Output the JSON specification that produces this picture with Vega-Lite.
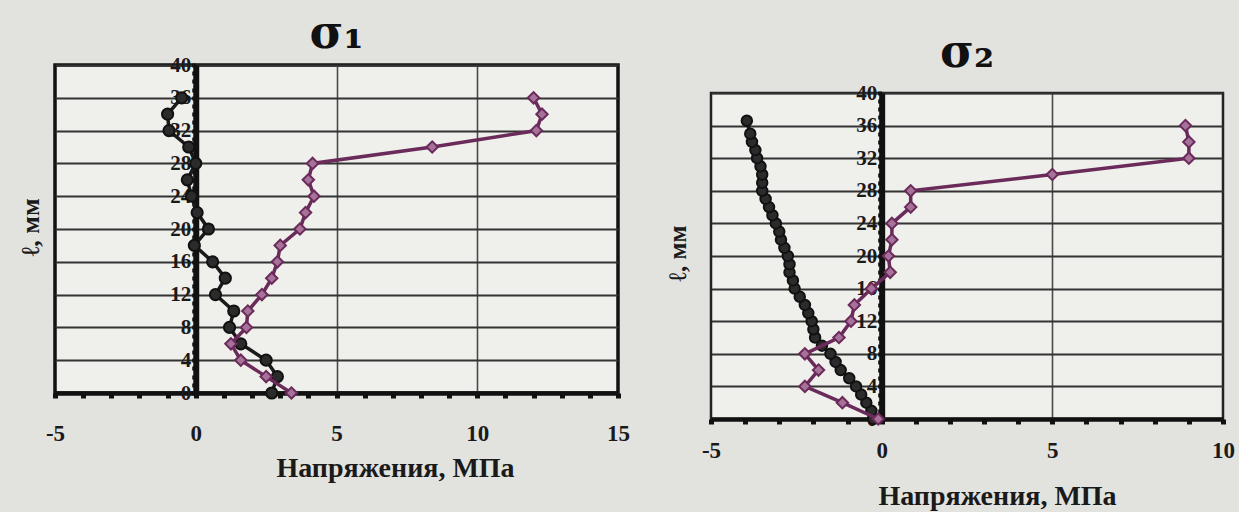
{
  "$schema": "https://vega.github.io/schema/vega-lite/v6.json",
  "background": "#e2e2df",
  "padding": {"left": 16, "top": 9, "right": 4, "bottom": 0},
  "spacing": 32,
  "config": {
    "font": "Liberation Serif",
    "view": {"fill": "#efefec"},
    "title": {"font": "DejaVu Serif", "fontWeight": "bold", "color": "#111", "fontSize": 46, "anchor": "middle"},
    "axis": {
      "labelFont": "Liberation Serif", "labelFontWeight": "bold", "labelColor": "#1a1a1a",
      "titleFont": "Liberation Serif", "titleFontWeight": "bold", "titleColor": "#1a1a1a",
      "domainColor": "#111", "tickColor": "#111", "labelOverlap": false, "labelFlush": false
    }
  },
  "datasets": {
    "d1": [
      {"s": "a", "l": 0, "v": 2.7}, {"s": "a", "l": 2, "v": 2.9}, {"s": "a", "l": 4, "v": 2.5},
      {"s": "a", "l": 6, "v": 1.6}, {"s": "a", "l": 8, "v": 1.2}, {"s": "a", "l": 10, "v": 1.35},
      {"s": "a", "l": 12, "v": 0.7}, {"s": "a", "l": 14, "v": 1.05}, {"s": "a", "l": 16, "v": 0.6},
      {"s": "a", "l": 18, "v": -0.05}, {"s": "a", "l": 20, "v": 0.45}, {"s": "a", "l": 22, "v": 0.05},
      {"s": "a", "l": 24, "v": -0.15}, {"s": "a", "l": 26, "v": -0.3}, {"s": "a", "l": 28, "v": 0.0},
      {"s": "a", "l": 30, "v": -0.25}, {"s": "a", "l": 32, "v": -0.95}, {"s": "a", "l": 34, "v": -1.0},
      {"s": "a", "l": 36, "v": -0.5},
      {"s": "b", "l": 0, "v": 3.4}, {"s": "b", "l": 2, "v": 2.5}, {"s": "b", "l": 4, "v": 1.6},
      {"s": "b", "l": 6, "v": 1.25}, {"s": "b", "l": 8, "v": 1.8}, {"s": "b", "l": 10, "v": 1.85},
      {"s": "b", "l": 12, "v": 2.35}, {"s": "b", "l": 14, "v": 2.7}, {"s": "b", "l": 16, "v": 2.9},
      {"s": "b", "l": 18, "v": 3.0}, {"s": "b", "l": 20, "v": 3.7}, {"s": "b", "l": 22, "v": 3.9},
      {"s": "b", "l": 24, "v": 4.2}, {"s": "b", "l": 26, "v": 4.0}, {"s": "b", "l": 28, "v": 4.15},
      {"s": "b", "l": 30, "v": 8.4}, {"s": "b", "l": 32, "v": 12.1}, {"s": "b", "l": 34, "v": 12.3},
      {"s": "b", "l": 36, "v": 12.0}
    ],
    "d2": [
      {"s": "a", "l": 0, "v": -0.25}, {"s": "a", "l": 1, "v": -0.3}, {"s": "a", "l": 2, "v": -0.45},
      {"s": "a", "l": 3, "v": -0.6}, {"s": "a", "l": 4, "v": -0.75}, {"s": "a", "l": 5, "v": -0.95},
      {"s": "a", "l": 6, "v": -1.2}, {"s": "a", "l": 7, "v": -1.35}, {"s": "a", "l": 8, "v": -1.5},
      {"s": "a", "l": 9, "v": -1.75}, {"s": "a", "l": 10, "v": -1.95}, {"s": "a", "l": 11, "v": -2.0},
      {"s": "a", "l": 12, "v": -2.05}, {"s": "a", "l": 13, "v": -2.15}, {"s": "a", "l": 14, "v": -2.25},
      {"s": "a", "l": 15, "v": -2.4}, {"s": "a", "l": 16, "v": -2.55}, {"s": "a", "l": 17, "v": -2.6},
      {"s": "a", "l": 18, "v": -2.7}, {"s": "a", "l": 19, "v": -2.7}, {"s": "a", "l": 20, "v": -2.75},
      {"s": "a", "l": 21, "v": -2.85}, {"s": "a", "l": 22, "v": -2.95}, {"s": "a", "l": 23, "v": -3.0},
      {"s": "a", "l": 24, "v": -3.1}, {"s": "a", "l": 25, "v": -3.2}, {"s": "a", "l": 26, "v": -3.3},
      {"s": "a", "l": 27, "v": -3.4}, {"s": "a", "l": 28, "v": -3.5}, {"s": "a", "l": 29, "v": -3.5},
      {"s": "a", "l": 30, "v": -3.5}, {"s": "a", "l": 31, "v": -3.55}, {"s": "a", "l": 32, "v": -3.65},
      {"s": "a", "l": 33, "v": -3.7}, {"s": "a", "l": 34, "v": -3.8}, {"s": "a", "l": 35, "v": -3.85},
      {"s": "a", "l": 36.6, "v": -3.95},
      {"s": "b", "l": 0, "v": -0.1}, {"s": "b", "l": 2, "v": -1.15}, {"s": "b", "l": 4, "v": -2.25},
      {"s": "b", "l": 6, "v": -1.85}, {"s": "b", "l": 8, "v": -2.25}, {"s": "b", "l": 10, "v": -1.25},
      {"s": "b", "l": 12, "v": -0.9}, {"s": "b", "l": 14, "v": -0.8}, {"s": "b", "l": 16, "v": -0.3},
      {"s": "b", "l": 18, "v": 0.25}, {"s": "b", "l": 20, "v": 0.2}, {"s": "b", "l": 22, "v": 0.3},
      {"s": "b", "l": 24, "v": 0.3}, {"s": "b", "l": 26, "v": 0.85}, {"s": "b", "l": 28, "v": 0.85},
      {"s": "b", "l": 30, "v": 5.0}, {"s": "b", "l": 32, "v": 9.0}, {"s": "b", "l": 34, "v": 9.0},
      {"s": "b", "l": 36, "v": 8.9}
    ],
    "sp": [{"k": 0}]
  },
  "hconcat": [
    {
      "vconcat": [
        {
          "width": 563,
          "height": 328,
          "view": {"stroke": "#111", "strokeWidth": 3.5},
          "title": {"text": "σ₁", "offset": -4},
          "data": {"name": "d1"},
          "encoding": {
            "x": {
              "field": "v", "type": "quantitative",
              "scale": {"domain": [-5, 15], "nice": false, "zero": false},
              "axis": {
                "values": [-5, -4, -3, -2, -1, 0, 1, 2, 3, 4, 5, 6, 7, 8, 9, 10, 11, 12, 13, 14, 15],
                "labelExpr": "datum.value % 5 === 0 ? replace(datum.label, '−', '-') : ''",
                "grid": true, "gridColor": "#4a4a4a", "gridWidth": 1.6,
                "gridOpacity": {"condition": {"test": "datum.value === 5 || datum.value === 10", "value": 1}, "value": 0},
                "domainWidth": 4.5, "tickSize": 5, "tickWidth": 5,
                "encode": {"ticks": {"update": {"y": {"value": -5}}}},
                "labelFontSize": 23, "labelPadding": 24,
                "title": "Напряжения, МПа", "titleFontSize": 28, "titlePadding": 9, "titleX": 340
              }
            },
            "y": {
              "field": "l", "type": "quantitative",
              "scale": {"domain": [0, 40], "nice": false, "zero": false},
              "axis": {
                "values": [0, 1, 2, 3, 4, 5, 6, 7, 8, 9, 10, 11, 12, 13, 14, 15, 16, 17, 18, 19, 20, 21, 22, 23, 24, 25, 26, 27, 28, 29, 30, 31, 32, 33, 34, 35, 36, 37, 38, 39, 40],
                "labelExpr": "datum.value % 4 === 0 ? datum.label : ''",
                "offset": -140.75,
                "grid": true, "gridColor": "#333", "gridWidth": 2,
                "gridOpacity": {"condition": {"test": "datum.value % 4 === 0", "value": 1}, "value": 0},
                "domainWidth": 6, "tickSize": 4, "tickWidth": 4,
                "encode": {"ticks": {"update": {"x": {"value": 4}}}},
                "labelFontSize": 21, "labelPadding": 1,
                "title": "ℓ, мм", "titleFontSize": 26, "titleX": -152, "titleY": 162, "titleAngle": -90
              }
            },
            "order": {"field": "l", "type": "quantitative"}
          },
          "layer": [
            {"transform": [{"filter": "datum.s === 'a'"}], "mark": {"type": "line", "color": "#1a1a1a", "strokeWidth": 3.5}},
            {"transform": [{"filter": "datum.s === 'a'"}], "mark": {"type": "point", "shape": "circle", "filled": true, "fill": "#2b2b2b", "stroke": "#111", "strokeWidth": 2, "size": 125, "opacity": 1}},
            {"transform": [{"filter": "datum.s === 'b'"}], "mark": {"type": "line", "color": "#6a2a5a", "strokeWidth": 3.5}},
            {"transform": [{"filter": "datum.s === 'b'"}], "mark": {"type": "point", "shape": "diamond", "filled": true, "fill": "#a7729a", "stroke": "#6a2a5a", "strokeWidth": 2, "size": 130, "opacity": 1}}
          ]
        }
      ]
    },
    {
      "spacing": -38,
      "vconcat": [
        {
          "width": 1,
          "height": 1,
          "data": {"name": "sp"},
          "view": {"stroke": null, "fill": null},
          "mark": {"type": "point", "opacity": 0, "size": 1},
          "encoding": {}
        },
        {
          "width": 512,
          "height": 326,
          "view": {"stroke": "#222", "strokeWidth": 2.5},
          "title": {"text": "σ₂", "offset": 5},
          "data": {"name": "d2"},
          "encoding": {
            "x": {
              "field": "v", "type": "quantitative",
              "scale": {"domain": [-5, 10], "nice": false, "zero": false},
              "axis": {
                "values": [-5, -4, -3, -2, -1, 0, 1, 2, 3, 4, 5, 6, 7, 8, 9, 10],
                "labelExpr": "datum.value % 5 === 0 ? replace(datum.label, '−', '-') : ''",
                "grid": true, "gridColor": "#4a4a4a", "gridWidth": 1.6,
                "gridOpacity": {"condition": {"test": "datum.value === 5", "value": 1}, "value": 0},
                "domainWidth": 4.5, "tickSize": 5, "tickWidth": 5,
                "encode": {"ticks": {"update": {"y": {"value": -5}}}},
                "labelFontSize": 23, "labelPadding": 15,
                "title": "Напряжения, МПа", "titleFontSize": 28, "titlePadding": 20, "titleX": 286
              }
            },
            "y": {
              "field": "l", "type": "quantitative",
              "scale": {"domain": [0, 40], "nice": false, "zero": false},
              "axis": {
                "values": [0, 1, 2, 3, 4, 5, 6, 7, 8, 9, 10, 11, 12, 13, 14, 15, 16, 17, 18, 19, 20, 21, 22, 23, 24, 25, 26, 27, 28, 29, 30, 31, 32, 33, 34, 35, 36, 37, 38, 39, 40],
                "labelExpr": "datum.value % 4 === 0 ? datum.label : ''",
                "offset": -170.67,
                "grid": true, "gridColor": "#333", "gridWidth": 2,
                "gridOpacity": {"condition": {"test": "datum.value % 4 === 0", "value": 1}, "value": 0},
                "domainWidth": 6, "tickSize": 4, "tickWidth": 4,
                "encode": {"ticks": {"update": {"x": {"value": 4}}}},
                "labelFontSize": 21, "labelPadding": 1,
                "title": "ℓ, мм", "titleFontSize": 25, "titleX": -191, "titleY": 160, "titleAngle": -90
              }
            },
            "order": {"field": "l", "type": "quantitative"}
          },
          "layer": [
            {"transform": [{"filter": "datum.s === 'a'"}], "mark": {"type": "line", "color": "#1a1a1a", "strokeWidth": 3.5}},
            {"transform": [{"filter": "datum.s === 'a'"}], "mark": {"type": "point", "shape": "circle", "filled": true, "fill": "#2b2b2b", "stroke": "#111", "strokeWidth": 2, "size": 110, "opacity": 1}},
            {"transform": [{"filter": "datum.s === 'b'"}], "mark": {"type": "line", "color": "#6a2a5a", "strokeWidth": 3.5}},
            {"transform": [{"filter": "datum.s === 'b'"}], "mark": {"type": "point", "shape": "diamond", "filled": true, "fill": "#a7729a", "stroke": "#6a2a5a", "strokeWidth": 2, "size": 130, "opacity": 1}}
          ]
        }
      ]
    }
  ]
}
